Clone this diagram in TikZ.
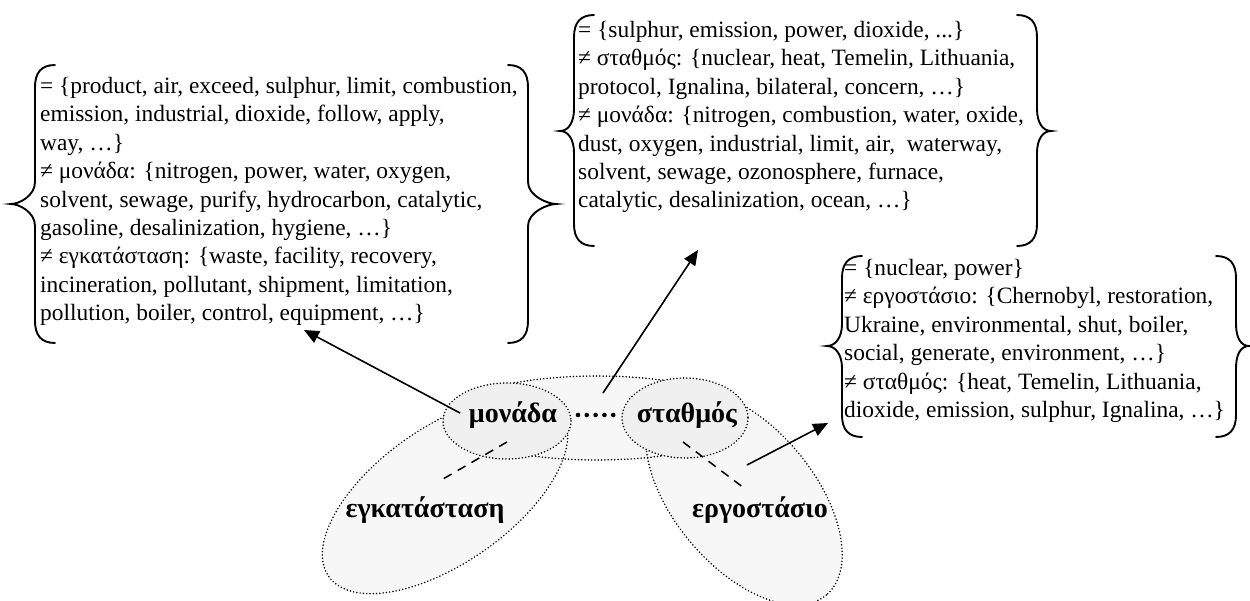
\documentclass[tikz,border=0pt]{standalone}
\usepackage{fontspec}
\setmainfont{Liberation Serif}
\usetikzlibrary{arrows.meta}
\newcommand{\bracL}[5]{%
  \draw[brc] ({#1+20},#2) .. controls ({#1+6},#2) and (#1,{#2+8}) .. (#1,{#2+22})
    -- (#1,{#4-22}) .. controls (#1,{#4-8}) and ({#1-#5+8},#4) .. ({#1-#5},#4)
    .. controls ({#1-#5+8},#4) and (#1,{#4+8}) .. (#1,{#4+22})
    -- (#1,{#3-22}) .. controls (#1,{#3-8}) and ({#1+6},#3) .. ({#1+20},#3);}
\newcommand{\bracR}[5]{%
  \draw[brc] ({#1-20},#2) .. controls ({#1-6},#2) and (#1,{#2+8}) .. (#1,{#2+22})
    -- (#1,{#4-22}) .. controls (#1,{#4-8}) and ({#1+#5-8},#4) .. ({#1+#5},#4)
    .. controls ({#1+#5-8},#4) and (#1,{#4+8}) .. (#1,{#4+22})
    -- (#1,{#3-22}) .. controls (#1,{#3-8}) and ({#1-6},#3) .. ({#1-20},#3);}
\begin{document}
\begin{tikzpicture}[x=1pt,y=-1pt,
  brc/.style={line width=1.9pt, line cap=round},
  txt/.style={inner sep=0pt, align=left, anchor=north west,
              font=\fontsize{23.4}{28.4}\selectfont},
  lbl/.style={inner sep=1pt, font=\fontsize{28}{30}\selectfont\bfseries},
  bigfill/.style={fill=gray!6},
  smallfill/.style={fill=gray!12},
  dotline/.style={line width=1.7pt, line cap=round, dash pattern=on 0pt off 3.3pt},
  arr/.style={line width=1.6pt, -{Triangle[length=15pt,width=13pt]}},
  dsh/.style={line width=1.5pt, dash pattern=on 9pt off 7pt},
  bigdots/.style={line width=4.6pt, line cap=round, dash pattern=on 0pt off 8.8pt}]
\useasboundingbox (0,0) rectangle (1250,601);
% regions
\path[bigfill] (445,495) ellipse [x radius=142, y radius=68, rotate=35];
\path[bigfill] (744,497) ellipse [x radius=128, y radius=70, rotate=-50];
\path[bigfill] (597,418) ellipse [x radius=150, y radius=42];
\draw[dotline] (445,495) ellipse [x radius=142, y radius=68, rotate=35];
\draw[dotline] (744,497) ellipse [x radius=128, y radius=70, rotate=-50];
\draw[dotline] (597,418) ellipse [x radius=150, y radius=42];
\draw[dotline, smallfill] (507,421) ellipse [x radius=64, y radius=38];
\draw[dotline, smallfill] (685,418) ellipse [x radius=63, y radius=40];
% labels
\node[lbl] (mon) at (513,415) {μονάδα};
\node[lbl] (sta) at (687,415) {σταθμός};
\node[lbl] (egk) at (425,510) {εγκατάσταση};
\node[lbl] (erg) at (760,510) {εργοστάσιο};
% text boxes
\node[txt] (b1) at (40,77) {= \{product, air, exceed, sulphur, limit, combustion,\\
emission, industrial, dioxide, follow, apply,\\
way, …\}\\
≠ μονάδα: \{nitrogen, power, water, oxygen,\\
solvent, sewage, purify, hydrocarbon, catalytic,\\
gasoline, desalinization, hygiene, …\}\\
≠ εγκατάσταση: \{waste, facility, recovery,\\
incineration, pollutant, shipment, limitation,\\
pollution, boiler, control, equipment, …\}};
\node[txt] (b2) at (578,21) {= \{sulphur, emission, power, dioxide, ...\}\\
≠ σταθμός: \{nuclear, heat, Temelin, Lithuania,\\
protocol, Ignalina, bilateral, concern, …\}\\
≠ μονάδα: \{nitrogen, combustion, water, oxide,\\
dust, oxygen, industrial, limit, air,\ \ waterway,\\
solvent, sewage, ozonosphere, furnace,\\
catalytic, desalinization, ocean, …\}};
\node[txt] (b3) at (844,259) {= \{nuclear, power\}\\
≠ εργοστάσιο: \{Chernobyl, restoration,\\
Ukraine, environmental, shut, boiler,\\
social, generate, environment, …\}\\
≠ σταθμός: \{heat, Temelin, Lithuania,\\
dioxide, emission, sulphur, Ignalina, …\}};
% braces
\bracL{35}{65}{343}{204}{24}
\bracR{528}{65}{343}{204}{28}
\bracL{574}{15}{246}{131}{14}
\bracR{1037}{15}{246}{131}{14}
\bracL{842}{256}{437}{346}{15}
\bracR{1236}{256}{437}{346}{13}
% connector end points
\coordinate (t1) at (460,413);
\coordinate (h1) at (304,330);
\coordinate (t2) at (603,393);
\coordinate (h2) at (698,250);
\coordinate (t3) at (747,465);
\coordinate (h3) at (828,423);
\coordinate (d1a) at (507,442);
\coordinate (d1b) at (443,479);
\coordinate (d2a) at (683,442);
\coordinate (d2b) at (744,488);
\coordinate (p1) at (578,415);
\coordinate (p2) at (620,415);
% connectors
\draw[arr] (t1) -- (h1);
\draw[arr] (t2) -- (h2);
\draw[arr] (t3) -- (h3);
\draw[dsh] (d1a) -- (d1b);
\draw[dsh] (d2a) -- (d2b);
\draw[bigdots] (p1) -- (p2);
\end{tikzpicture}
\end{document}
